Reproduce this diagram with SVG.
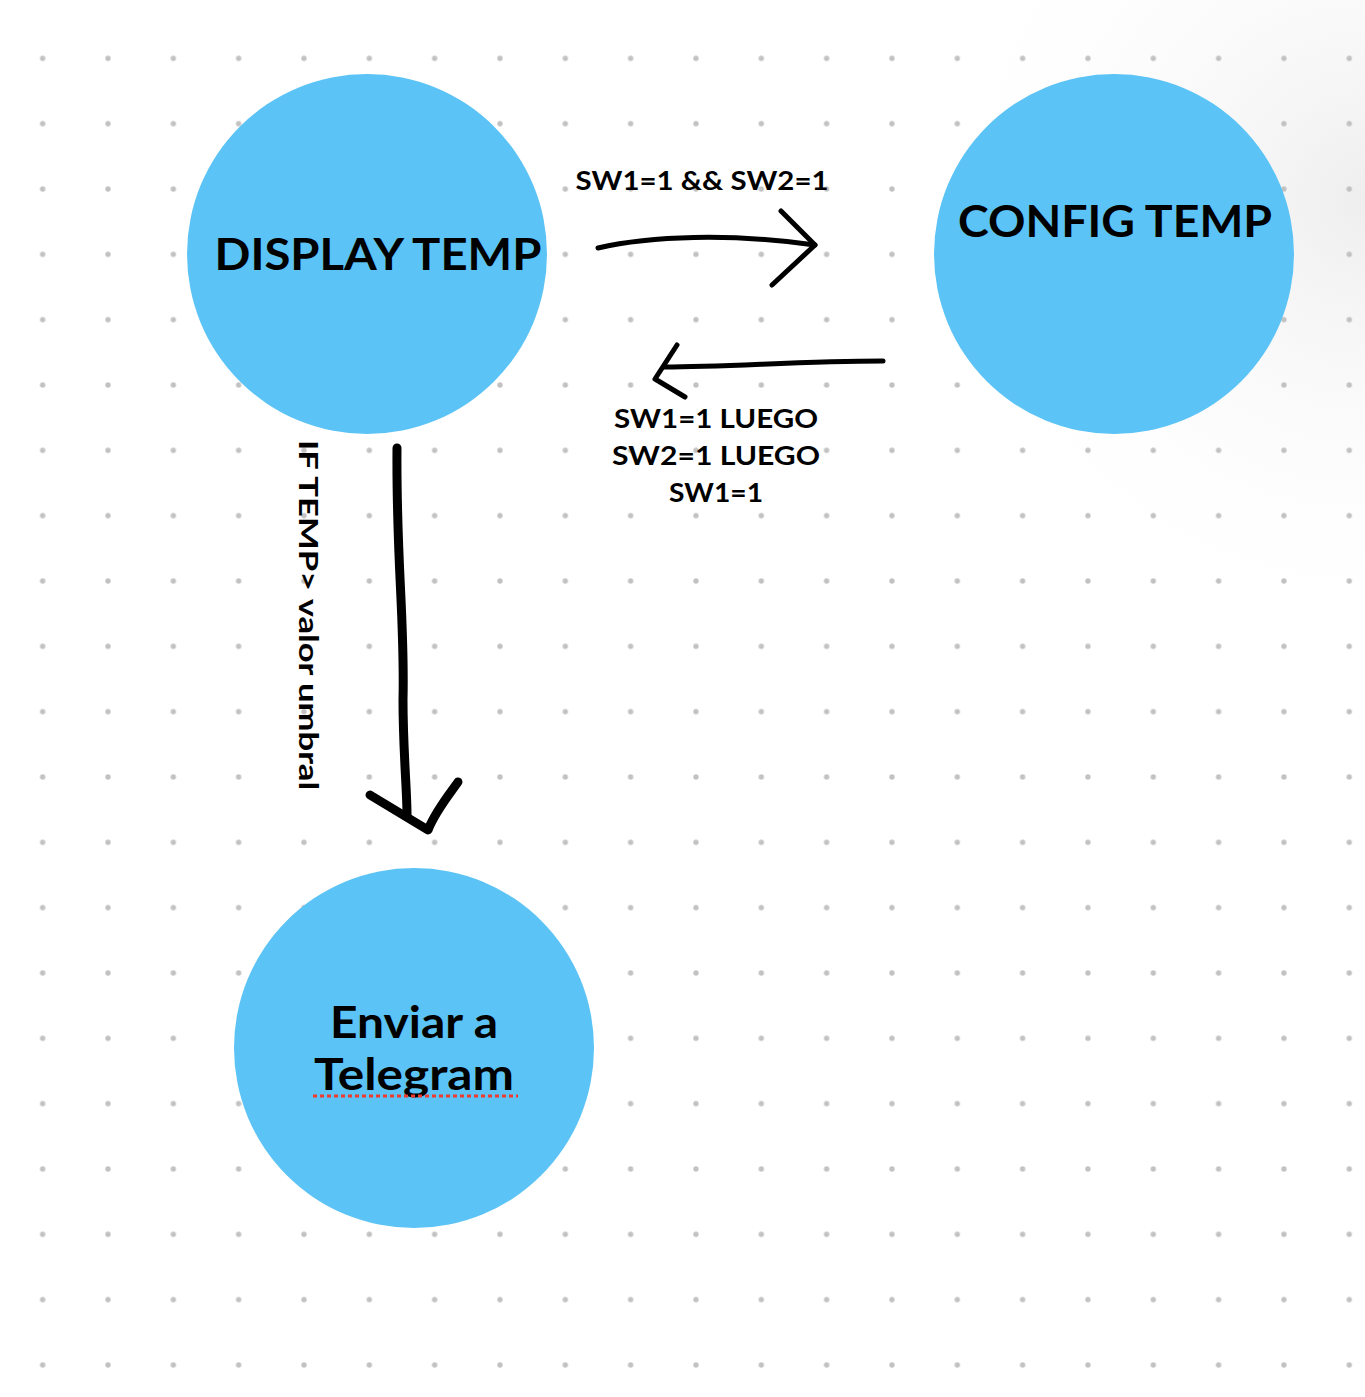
<svg xmlns="http://www.w3.org/2000/svg" width="1365" height="1397" viewBox="0 0 1365 1397">
<defs>
<pattern id="dots" x="10" y="25.7" width="65.33" height="65.33" patternUnits="userSpaceOnUse">
<circle cx="32.67" cy="32.67" r="2.7" fill="#c2c2c2"/>
</pattern>
<radialGradient id="shade" cx="1365" cy="200" r="450" gradientUnits="userSpaceOnUse">
<stop offset="0" stop-color="#eeeeee"/>
<stop offset="1" stop-color="#ffffff" stop-opacity="0"/>
</radialGradient>
<style>
.node{fill:#5bc3f5}
.big{font-family:Lato,"Open Sans","Liberation Sans",sans-serif;font-weight:700;font-size:44px;fill:#000}
.lbl{font-family:Lato,"Open Sans","Liberation Sans",sans-serif;font-weight:700;font-size:26px;fill:#000}
.hand{fill:none;stroke:#000;stroke-linecap:round;stroke-linejoin:round}
</style>
</defs>
<rect width="1365" height="1397" fill="#fff"/>
<rect width="1365" height="1397" fill="url(#shade)"/>
<rect width="1365" height="1397" fill="url(#dots)"/>

<g id="display-temp">
<circle class="node" cx="367" cy="254" r="180"/>
<text class="big" x="378" y="270" text-anchor="middle" textLength="327" lengthAdjust="spacingAndGlyphs">DISPLAY TEMP</text>
</g>
<g id="config-temp">
<circle class="node" cx="1114" cy="254" r="180"/>
<text class="big" x="1115" y="237" text-anchor="middle" textLength="314" lengthAdjust="spacingAndGlyphs">CONFIG TEMP</text>
</g>
<g id="enviar-telegram">
<circle class="node" cx="414" cy="1048" r="180"/>
<text class="big" x="414" y="1038" text-anchor="middle" font-size="42" textLength="168" lengthAdjust="spacingAndGlyphs">Enviar a</text>
<text class="big" x="414" y="1090" text-anchor="middle" font-size="42" textLength="200" lengthAdjust="spacingAndGlyphs">Telegram</text>
<line x1="313" y1="1096" x2="518" y2="1096" stroke="#f03a2e" stroke-width="3" stroke-dasharray="4,3"/>
</g>

<g id="connectors">
<path class="hand" stroke-width="5" d="M598 248 C650 236 730 233 815 245"/>
<path class="hand" stroke-width="5" d="M781 211 L815 245 L772 285"/>
<path class="hand" stroke-width="5" d="M883 361 C800 361 730 367 664 367"/>
<path class="hand" stroke-width="5" d="M677 345 L655 379 L685 397"/>
<path class="hand" stroke-width="9" d="M397 448 C396 560 405 620 403 700 C403 750 407 790 407 815"/>
<path class="hand" stroke-width="9" d="M370 795 L428 830 C435 812 448 796 458 782"/>
<text class="lbl" x="702" y="190" text-anchor="middle" textLength="253" lengthAdjust="spacingAndGlyphs">SW1=1 &amp;&amp; SW2=1</text>
<text class="lbl" x="716" y="428" text-anchor="middle" textLength="204" lengthAdjust="spacingAndGlyphs">SW1=1 LUEGO</text>
<text class="lbl" x="716" y="465" text-anchor="middle" textLength="208" lengthAdjust="spacingAndGlyphs">SW2=1 LUEGO</text>
<text class="lbl" x="716" y="502" text-anchor="middle" textLength="94" lengthAdjust="spacingAndGlyphs">SW1=1</text>
<text class="lbl" font-size="28" transform="translate(299 440) rotate(90)" textLength="350" lengthAdjust="spacingAndGlyphs">IF TEMP&gt; valor umbral</text>
</g>
</svg>
